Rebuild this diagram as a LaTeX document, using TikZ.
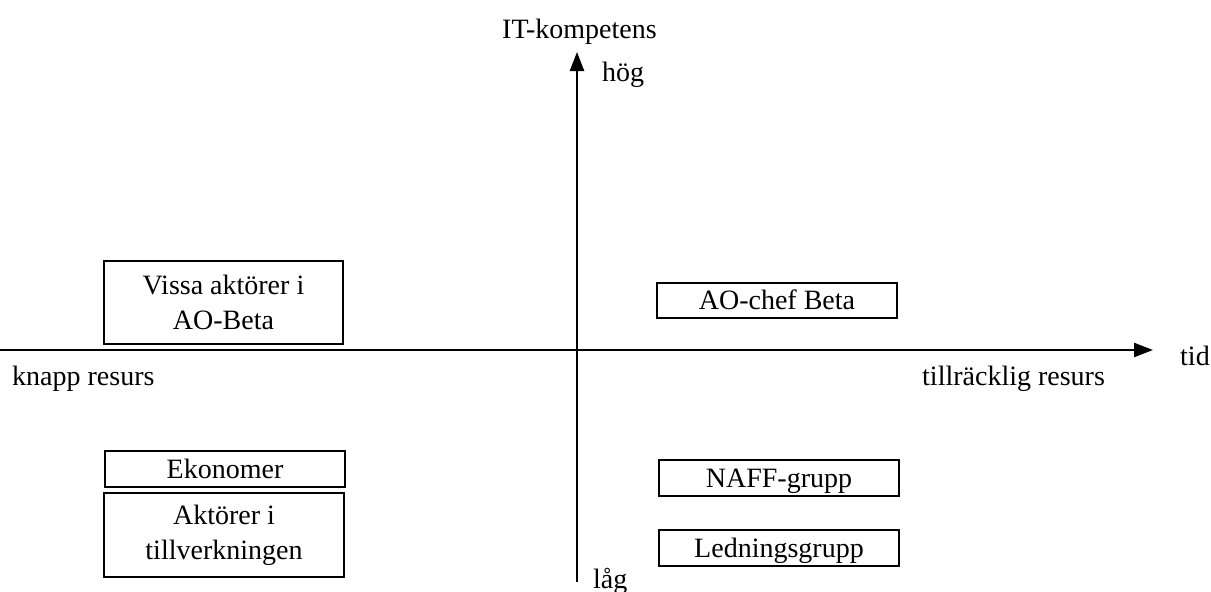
\documentclass[tikz,border=0pt]{standalone}
\usepackage{fontspec}
\setmainfont{Liberation Serif}
\usetikzlibrary{arrows.meta}
\begin{document}
\begin{tikzpicture}[x=1pt,y=-1pt,
  axis/.style={line width=2.4pt,-{Triangle[length=19pt,width=14pt]}},
  group/.style={draw,line width=1.4pt,inner sep=0pt,align=center,font=\fontsize{28}{35}\selectfont},
  single/.style={group,text height=20pt,text depth=2pt},
  lbl/.style={font=\fontsize{28}{35}\selectfont,inner sep=0pt}]
\useasboundingbox (0,0) rectangle (1211,592);
% axes
\coordinate (xs) at (0,350);
\coordinate (xe) at (1153,350);
\coordinate (ys) at (577,582);
\coordinate (ye) at (577,52);
\draw[axis] (xs) -- (xe);
\draw[axis] (ys) -- (ye);
% axis labels
\node[lbl,anchor=base west] (itk) at (502,38) {IT-kompetens};
\node[lbl,anchor=base west] (hog) at (602,81) {hög};
\node[lbl,anchor=base west] (lag) at (593,588) {låg};
\node[lbl,anchor=base west] (knapp) at (12,385) {knapp resurs};
\node[lbl,anchor=base west] (tillr) at (922,385) {tillräcklig resurs};
\node[lbl,anchor=base west] (tid) at (1180,365) {tid};
% groups
\node[group,minimum width=239pt,minimum height=83pt] (vissa) at (223.5,302.5) {Vissa aktörer i\\AO-Beta};
\node[single,minimum width=240pt,minimum height=36pt] (ekon) at (225,469) {Ekonomer};
\node[group,minimum width=240pt,minimum height=84pt] (tillv) at (224,535) {Aktörer i\\tillverkningen};
\node[single,minimum width=240pt,minimum height=35pt] (aochef) at (777,300.5) {AO-chef Beta};
\node[single,minimum width=240pt,minimum height=36pt] (naff) at (779,478) {NAFF-grupp};
\node[single,minimum width=240pt,minimum height=36pt] (ledn) at (779,548) {Ledningsgrupp};
\end{tikzpicture}
\end{document}
